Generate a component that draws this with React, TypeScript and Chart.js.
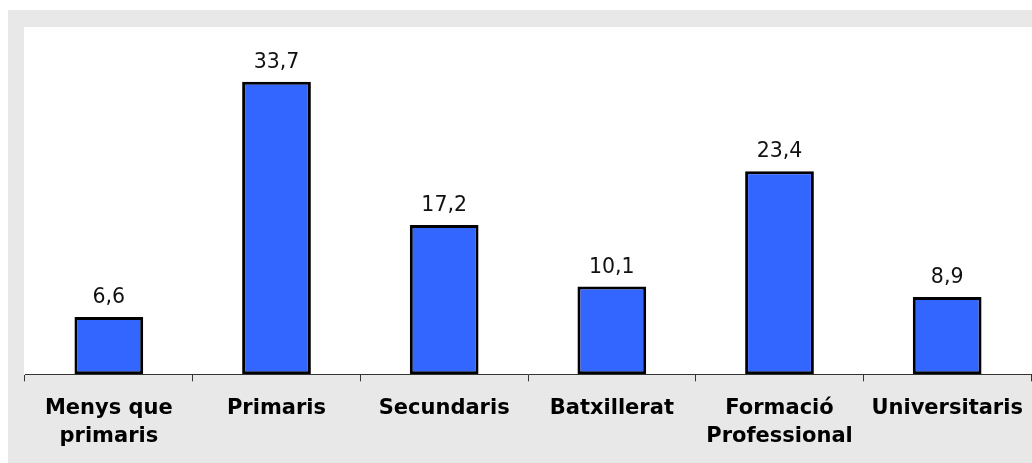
import React, { useEffect, useRef } from "react";
import { Chart, registerables } from "chart.js";

Chart.register(...registerables);

const categories: (string | string[])[] = [
  ["Menys que", "primaris"],
  "Primaris",
  "Secundaris",
  "Batxillerat",
  ["Formació", "Professional"],
  "Universitaris",
];
const values: number[] = [6.6, 33.7, 17.2, 10.1, 23.4, 8.9];
const yMin = 0;
const yMax = 40;

const FONT = "'DejaVu Sans', Verdana, sans-serif";

const bgPlugin = {
  id: "bgPlugin",
  beforeDraw(chart: any) {
    const { ctx, chartArea, width } = chart;
    ctx.save();
    ctx.fillStyle = "#e8e8e8";
    ctx.fillRect(0, 0, width, 453);
    ctx.fillStyle = "#ffffff";
    ctx.fillRect(chartArea.left - 1, chartArea.top, width - chartArea.left + 1, chartArea.bottom - chartArea.top);
    ctx.restore();
  },
};

const labelPlugin = {
  id: "labelPlugin",
  afterDatasetsDraw(chart: any) {
    const { ctx } = chart;
    const meta = chart.getDatasetMeta(0);
    ctx.save();
    ctx.fillStyle = "#111111";
    ctx.font = `20.5px ${FONT}`;
    ctx.textAlign = "center";
    ctx.textBaseline = "alphabetic";
    meta.data.forEach((bar: any, i: number) => {
      const v = values[i];
      ctx.fillText(v.toFixed(1).replace(".", ","), bar.x, bar.y - 14);
    });
    ctx.restore();
  },
};

export default function App() {
  const ref = useRef<HTMLCanvasElement | null>(null);
  useEffect(() => {
    if (!ref.current) return;
    const chart = new Chart(ref.current, {
      type: "bar",
      data: {
        labels: categories,
        datasets: [
          {
            data: values,
            backgroundColor: "#3366ff",
            borderColor: "#000000",
            borderWidth: 3,
            borderSkipped: false,
            barPercentage: 0.41,
            categoryPercentage: 1,
          },
        ],
      },
      options: {
        responsive: false,
        animation: false,
        layout: { padding: { left: 17, top: 17, right: 1, bottom: -1 } },
        plugins: { legend: { display: false }, tooltip: { enabled: false } },
        scales: {
          x: {
            offset: true,
            afterFit: (scale: any) => {
              scale.paddingLeft = 0;
              scale.paddingRight = 0;
            },
            grid: {
              offset: true,
              drawOnChartArea: false,
              drawTicks: true,
              tickLength: 7,
              color: "#333333",
              lineWidth: 1,
            },
            border: { display: true, color: "#333333", width: 1 },
            ticks: {
              color: "#000000",
              font: { family: FONT, size: 21, weight: "bold", lineHeight: 1.35 },
              padding: 13,
              maxRotation: 0,
              minRotation: 0,
              autoSkip: false,
            },
          },
          y: {
            display: false,
            min: yMin,
            max: yMax,
          },
        },
      },
      plugins: [bgPlugin, labelPlugin],
    });
    return () => chart.destroy();
  }, []);
  return (
    <div style={{ position: "absolute", left: 8, top: 10, width: 1024, height: 453 }}>
      <canvas ref={ref} width={1024} height={453} style={{ display: "block" }} />
    </div>
  );
}
